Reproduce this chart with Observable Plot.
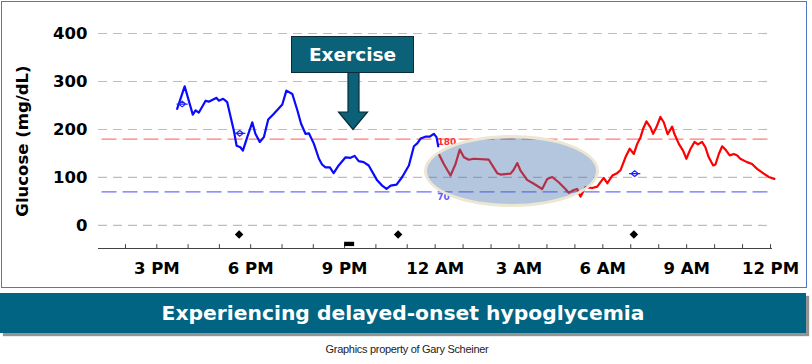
<!DOCTYPE html>
<html>
<head>
<meta charset="utf-8">
<script src="https://cdn.jsdelivr.net/npm/d3@7"></script>
<script src="https://cdn.jsdelivr.net/npm/@observablehq/plot@0.6"></script>
<style>
  html, body { margin: 0; padding: 0; background: #ffffff; }
  #wrap { position: relative; width: 812px; height: 364px; overflow: hidden; font-family: "DejaVu Sans", sans-serif; }
  #frame { position: absolute; left: 1px; top: 1px; width: 806px; height: 287px; box-sizing: border-box; border: 1px solid #4f77c2; }
  #chart { position: absolute; left: 0; top: 0; }
  #ellipse { position: absolute; left: 424px; top: 135px; width: 175px; height: 72px; box-sizing: border-box;
             border-radius: 50%; border: 3px solid #ebe7d2; background: rgba(74,117,175,0.41); }
  #exbox { position: absolute; left: 291px; top: 36px; width: 123px; height: 37px; box-sizing: border-box;
           background: #0b6178; border: 1.5px solid #0a2c36; color: #ffffff; font: bold 18.5px "DejaVu Sans", sans-serif;
           display: flex; align-items: center; justify-content: center; }
  #arrow { position: absolute; left: 0; top: 0; }
  #banner { position: absolute; left: 0; top: 293px; width: 806px; height: 40px; background: #006482;
            box-shadow: 3px 3px 1px rgba(60,60,60,0.55); color: #ffffff; font: bold 20.3px "DejaVu Sans", sans-serif;
            display: flex; align-items: center; justify-content: center; }
  #caption { position: absolute; left: 0; top: 343px; width: 814px; text-align: center; color: #222;
             font: 11px "Liberation Sans", sans-serif; letter-spacing: -0.3px; }
</style>
</head>
<body>
<div id="wrap">
  <div id="chart"></div>
  <div id="frame"></div>
  <div id="ellipse"></div>
  <svg id="arrow" width="812" height="300">
    <polygon points="348,72 359,72 359,112 367.5,112 353,129.5 338.5,112 348,112" fill="#0b6178" stroke="#0a2c36" stroke-width="1.2"/>
  </svg>
  <div id="exbox">Exercise</div>
  <div id="banner">Experiencing delayed-onset hypoglycemia</div>
  <div id="caption">Graphics property of Gary Scheiner</div>
</div>
<script>
// Hours are counted from 12 PM on day 1 (3 = 3 PM, 12 = 12 AM, 24 = 12 PM next day)
const tickHours = [3, 6, 9, 12, 15, 18, 21, 24];
const tickLabels = ["3 PM", "6 PM", "9 PM", "12 AM", "3 AM", "6 AM", "9 AM", "12 PM"];
const minorHours = [2, 3, 4, 5, 6, 7, 8, 9, 10, 11, 12, 13, 14, 15, 16, 17, 18, 19, 20, 21, 22, 23, 24];
const gridValues = [0, 100, 200, 300, 400];
const yTickValues = [0, 100, 200, 300, 400];
const highTarget = [180];
const lowTarget = [70];

// Day 1 (blue) CGM trace: [hour, mg/dL]
const blueSeries = [
  [3.65,243],[3.89,290],[4.15,231],[4.24,240],[4.34,235],[4.56,260],[4.66,258],[4.91,266],[4.98,260],
  [5.12,264],[5.25,257],[5.46,198],[5.55,166],[5.67,163],[5.75,156],[5.89,184],[6.05,215],[6.15,191],
  [6.29,174],[6.42,184],[6.56,221],[6.74,233],[7.01,252],[7.14,281],[7.33,274],[7.49,240],[7.61,212],
  [7.75,191],[7.86,192],[8.02,170],[8.18,139],[8.28,127],[8.39,121],[8.53,121],[8.65,109],[8.81,125],
  [9.03,142],[9.19,141],[9.32,145],[9.45,134],[9.61,132],[9.77,125],[10.04,94],[10.20,83],[10.34,76],
  [10.47,83],[10.66,85],[10.84,101],[11.06,125],[11.24,165],[11.36,171],[11.48,181],[11.65,185],
  [11.81,185],[11.95,191],[12.05,184],[12.11,165]
];
// Day 2 (red) CGM trace: [hour, mg/dL]
const redSeries = [
  [12.13,149],[12.31,128],[12.55,104],[12.73,128],[12.88,158],[13.03,142],[13.20,137],[13.38,139],
  [13.92,137],[14.22,109],[14.34,106],[14.70,108],[14.81,116],[14.94,130],[15.05,115],[15.29,95],
  [15.53,87],[15.83,76],[16.01,97],[16.19,101],[16.42,90],[16.66,76],[16.78,68],[16.96,74],[17.08,76],
  [17.20,60],[17.38,80],[17.62,78],[17.80,81],[18.03,99],[18.16,88],[18.34,104],[18.51,109],[18.63,115],
  [18.81,142],[18.96,160],[19.11,149],[19.23,170],[19.35,184],[19.44,201],[19.56,217],[19.70,205],
  [19.80,191],[19.92,205],[20.06,226],[20.18,215],[20.32,190],[20.48,206],[20.56,191],[20.72,170],
  [20.87,156],[20.99,139],[21.14,160],[21.28,174],[21.40,169],[21.55,174],[21.67,163],[21.79,142],
  [21.95,125],[22.03,127],[22.15,149],[22.27,165],[22.39,158],[22.54,146],[22.69,149],[22.81,146],
  [22.92,139],[23.16,132],[23.34,128],[23.52,118],[23.76,108],[23.94,101],[24.14,97]
];
// Average markers (open blue diamonds)
const avgHours = [3.81, 5.65, 19.14];
const avgValues = [253, 192, 108];
// Event markers (black diamonds) and exercise flag
const eventHours = [5.63, 10.71, 19.11];
const eventValue = -19;
const flagStart = [9.0];
const flagEnd = [9.32];
const flagLow = -44;
const flagHigh = -35;
const targetLabels = ["180", "70"];
const targetLabelHours = [12.42, 12.3];
const targetLabelValues = [174, 60];

const xMin = 1.137, xMax = 24.1, yMin = -48, yMax = 400;

const toObj = s => s.map(([h, v]) => ({h, v}));
const blueData = toObj(blueSeries);
const redData = toObj(redSeries);
const avgData = avgHours.map((h, i) => ({h, v: avgValues[i]}));
const eventData = eventHours.map(h => ({h, v: eventValue}));
const flagData = flagStart.map((s, i) => ({x1: s, x2: flagEnd[i], y1: flagLow, y2: flagHigh}));
const targetLabelData = targetLabels.map((t, i) => ({t, h: targetLabelHours[i], v: targetLabelValues[i]}));

const diamondLine = {
  draw(ctx, size) {
    const r = Math.sqrt(size / Math.PI);
    ctx.moveTo(-r * 1.6, 0); ctx.lineTo(r * 1.6, 0);
    ctx.moveTo(0, -r * 0.8); ctx.lineTo(r, 0); ctx.lineTo(0, r * 0.8); ctx.lineTo(-r, 0); ctx.closePath();
  }
};

const chart = Plot.plot({
  width: 812,
  height: 288,
  marginLeft: 98,
  marginRight: 39,
  marginTop: 33,
  marginBottom: 40,
  style: {fontFamily: "DejaVu Sans, sans-serif", background: "transparent", overflow: "visible"},
  x: {type: "linear", domain: [xMin, 2, 11, xMax], range: [98, 125, 406.7, 772.8]},
  y: {domain: [yMin, yMax], range: [248, 33]},
  marks: [
    Plot.ruleY(gridValues, {x1: xMin, x2: 24.0, stroke: "#bdbdbd", strokeWidth: 1.2, strokeDasharray: "9,6"}),
    Plot.ruleY(highTarget, {x1: 1.25, x2: xMax, stroke: "#ff7a7a", strokeWidth: 1.2, strokeDasharray: "15,6"}),
    Plot.ruleY(lowTarget, {x1: 1.25, x2: xMax, stroke: "#6b6bff", strokeWidth: 1.2, strokeDasharray: "15,6"}),
    Plot.ruleY([yMin], {x1: xMin, x2: 24.07, stroke: "#444", strokeWidth: 1}),
    Plot.ruleX(minorHours, {y1: yMin, y2: yMin + 8, stroke: "#444", strokeWidth: 1}),
    Plot.axisY({ticks: yTickValues, tickSize: 0, tickPadding: 11, fontSize: 16.5, fontWeight: "bold",
                label: "Glucose (mg/dL)", labelAnchor: "center", labelArrow: "none", labelOffset: 82}),
    Plot.axisX({ticks: tickHours, tickFormat: h => tickLabels[tickHours.indexOf(h)], tickSize: 0, tickPadding: 14,
                fontSize: 16.5, fontWeight: "bold", label: null}),
    Plot.text(targetLabelData, {x: "h", y: "v", text: "t", fill: (d) => d.t === "180" ? "#ff3030" : "#5a5aff",
                fontSize: 9, fontWeight: "bold"}),
    Plot.line(blueData, {x: "h", y: "v", stroke: "#0a0aff", strokeWidth: 2.2}),
    Plot.line(redData, {x: "h", y: "v", stroke: "#ff0000", strokeWidth: 2.2}),
    Plot.dot(avgData, {x: "h", y: "v", symbol: diamondLine, r: 3.5, stroke: "#2020ff", strokeWidth: 1.2, fill: "none"}),
    Plot.dot(eventData, {x: "h", y: "v", symbol: "diamond2", r: 2.9, fill: "#000", stroke: "#000"}),
    Plot.rect(flagData, {x1: "x1", x2: "x2", y1: "y1", y2: "y2", fill: "#000"})
  ]
});
document.getElementById("chart").appendChild(chart);
</script>
</body>
</html>
